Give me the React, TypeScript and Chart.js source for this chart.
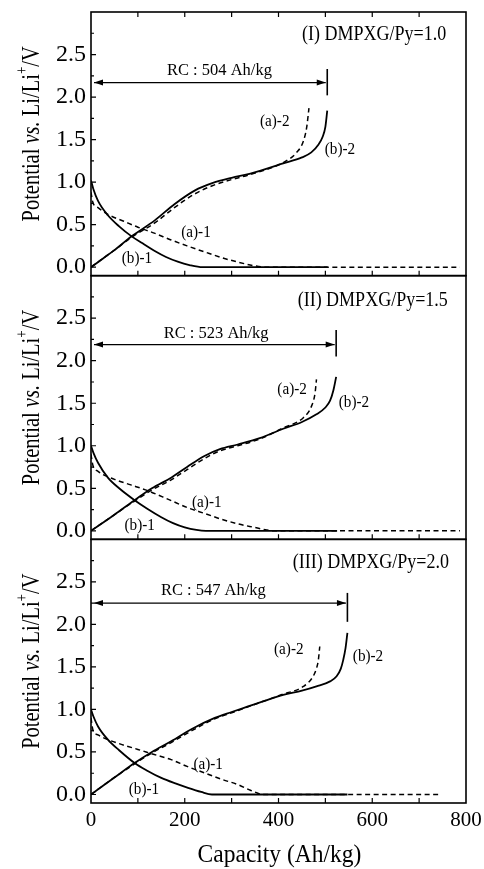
import React, { useEffect, useRef } from 'react';
import { Chart, registerables } from 'chart.js';
Chart.register(...registerables);

const SERIF = '"Liberation Serif", "Times New Roman", serif';

// ---- axes ----
const X_TICKS = [0, 200, 400, 600, 800];
const X_MINOR = [100, 200, 300, 400, 500, 600, 700];
const Y_TICKS = [0, 0.5, 1.0, 1.5, 2.0, 2.5];
const Y_MINOR = [0, 0.25, 0.5, 0.75, 1.0, 1.25, 1.5, 1.75, 2.0, 2.25, 2.5, 2.75];

// ---- panel info ----
const PANEL_NAMES = ['(I) DMPXG/Py=1.0', '(II) DMPXG/Py=1.5', '(III) DMPXG/Py=2.0'];
const RC = [504, 523, 547];
const CURVE_LABELS = ['(a)-1', '(b)-1', '(a)-2', '(b)-2'];

// ---- data: [capacity Ah/kg, potential V] ----
// Panel I
const a1_I = [[0, 0.88], [4, 0.76], [15, 0.7], [36, 0.62], [70, 0.54], [100, 0.47], [135, 0.4], [171, 0.32], [205, 0.25], [242, 0.18], [280, 0.11], [313, 0.06], [345, 0.02], [372, 0], [787, 0]];
const b1_I = [[0, 1.02], [5, 0.92], [15, 0.78], [36, 0.61], [60, 0.48], [86, 0.365], [110, 0.28], [136, 0.19], [160, 0.12], [185, 0.065], [210, 0.025], [238, 0], [505, 0]];
const a2_I = [[0, 0], [25, 0.1], [50, 0.2], [86, 0.35], [136, 0.52], [178, 0.7], [221, 0.86], [260, 0.96], [300, 1.03], [340, 1.09], [410, 1.23], [439, 1.35], [453, 1.48], [460, 1.64], [465, 1.87]];
const b2_I = [[0, 0], [25, 0.1], [50, 0.2], [86, 0.36], [136, 0.55], [178, 0.74], [221, 0.9], [260, 0.99], [300, 1.05], [340, 1.1], [410, 1.22], [450, 1.29], [470, 1.35], [485, 1.44], [494, 1.53], [500, 1.65], [504, 1.84]];
// Panel II
const a1_II = [[0, 0.9], [4, 0.77], [15, 0.7], [50, 0.605], [85, 0.54], [122, 0.47], [165, 0.37], [207, 0.27], [245, 0.2], [278, 0.137], [315, 0.08], [349, 0.04], [375, 0.01], [392, 0], [787, 0]];
const b1_II = [[0, 1.0], [5, 0.92], [15, 0.8], [36, 0.625], [60, 0.5], [93, 0.36], [120, 0.26], [150, 0.16], [175, 0.09], [200, 0.04], [225, 0.01], [245, 0], [525, 0]];
const a2_II = [[0, 0], [50, 0.19], [93, 0.35], [130, 0.48], [171, 0.6], [205, 0.72], [242, 0.85], [275, 0.94], [313, 1.0], [360, 1.08], [410, 1.21], [453, 1.33], [470, 1.46], [478, 1.62], [481, 1.78]];
const b2_II = [[0, 0], [50, 0.19], [93, 0.36], [130, 0.5], [171, 0.625], [205, 0.75], [242, 0.88], [275, 0.96], [313, 1.015], [360, 1.09], [410, 1.2], [450, 1.28], [481, 1.37], [500, 1.45], [510, 1.53], [517, 1.65], [523, 1.81]];
// Panel III
const a1_III = [[0, 0.9], [4, 0.76], [15, 0.7], [36, 0.645], [70, 0.58], [100, 0.53], [135, 0.47], [171, 0.41], [205, 0.33], [242, 0.254], [278, 0.18], [313, 0.117], [340, 0.05], [356, 0.015], [365, 0], [741, 0]];
const b1_III = [[0, 1.0], [5, 0.92], [15, 0.8], [36, 0.645], [60, 0.52], [93, 0.37], [120, 0.28], [150, 0.195], [180, 0.13], [207, 0.078], [235, 0.03], [258, 0], [547, 0]];
const a2_III = [[0, 0], [50, 0.2], [93, 0.36], [130, 0.49], [171, 0.61], [215, 0.75], [264, 0.89], [300, 0.96], [335, 1.03], [370, 1.1], [410, 1.18], [453, 1.27], [474, 1.39], [482, 1.5], [485, 1.58], [488, 1.74]];
const b2_III = [[0, 0], [50, 0.2], [93, 0.37], [130, 0.5], [171, 0.625], [215, 0.77], [264, 0.9], [300, 0.97], [335, 1.035], [370, 1.1], [410, 1.17], [450, 1.22], [481, 1.27], [510, 1.33], [524, 1.39], [533, 1.48], [538, 1.58], [543, 1.72], [547, 1.9]];

const PANEL_DATA = [
  [a1_I, b1_I, a2_I, b2_I],
  [a1_II, b1_II, a2_II, b2_II],
  [a1_III, b1_III, a2_III, b2_III],
];

// ---- annotation placement (data units) ----
const LAYOUT = [
  { title: [604, 2.73], rcText: [274, 2.31], arrowY: 2.17, bar: [2.33, 2.02],
    labels: [[224, 0.4], [98, 0.1], [392, 1.71], [531, 1.38]] },
  { title: [601, 2.71], rcText: [267, 2.32], arrowY: 2.19, bar: [2.36, 2.05],
    labels: [[247, 0.33], [104, 0.06], [429, 1.66], [561, 1.5]] },
  { title: [597, 2.73], rcText: [261, 2.4], arrowY: 2.25, bar: [2.37, 2.03],
    labels: [[250, 0.35], [113, 0.06], [422, 1.7], [591, 1.62]] },
];

// Chart.js stacks left axes bottom-up, so panel i (top to bottom) uses this id
const axisId = (i: number) => 'y' + (3 - i);

function drawText(ctx: CanvasRenderingContext2D, text: string, x: number, y: number, size: number, sx = 1) {
  ctx.save();
  ctx.translate(x, y);
  ctx.scale(sx, 1);
  ctx.font = `${size}px ${SERIF}`;
  ctx.textAlign = 'center';
  ctx.textBaseline = 'middle';
  ctx.fillText(text, 0, 0);
  ctx.restore();
}

const decorPlugin = {
  id: 'decor',
  afterDraw(chart: any) {
    const ctx: CanvasRenderingContext2D = chart.ctx;
    const xs = chart.scales.x;
    const L = xs.left, R = xs.right;
    ctx.save();
    ctx.strokeStyle = '#000';
    ctx.fillStyle = '#000';
    for (let i = 0; i < 3; i++) {
      const ys = chart.scales[axisId(i)];
      const T = ys.top, B = ys.bottom;
      // frame
      ctx.lineWidth = 1.6;
      ctx.strokeRect(L, T, R - L, B - T);
      // ticks
      ctx.lineWidth = 1.2;
      ctx.beginPath();
      X_MINOR.forEach((v) => {
        const px = xs.getPixelForValue(v);
        ctx.moveTo(px, B); ctx.lineTo(px, B - 5);
        if (i === 0) { ctx.moveTo(px, T); ctx.lineTo(px, T + 5); }
      });
      Y_MINOR.forEach((v, k) => {
        const py = ys.getPixelForValue(v);
        const len = k % 2 === 0 ? 5 : 3;
        ctx.moveTo(L, py); ctx.lineTo(L + len, py);
      });
      ctx.stroke();

      const lay = LAYOUT[i];
      // panel title
      drawText(ctx, PANEL_NAMES[i], xs.getPixelForValue(lay.title[0]), ys.getPixelForValue(lay.title[1]), 20, 0.9);
      // RC text
      drawText(ctx, `RC : ${RC[i]} Ah/kg`, xs.getPixelForValue(lay.rcText[0]), ys.getPixelForValue(lay.rcText[1]), 17, 0.97);
      // arrow
      const ay = ys.getPixelForValue(lay.arrowY);
      const x0 = xs.getPixelForValue(0) + 3;
      const xr = xs.getPixelForValue(RC[i]);
      const x1 = xr - 1.5;
      ctx.lineWidth = 1.2;
      ctx.beginPath(); ctx.moveTo(x0, ay); ctx.lineTo(x1, ay); ctx.stroke();
      ctx.beginPath(); ctx.moveTo(x0, ay); ctx.lineTo(x0 + 9, ay - 3); ctx.lineTo(x0 + 9, ay + 3); ctx.closePath(); ctx.fill();
      ctx.beginPath(); ctx.moveTo(x1, ay); ctx.lineTo(x1 - 9, ay - 3); ctx.lineTo(x1 - 9, ay + 3); ctx.closePath(); ctx.fill();
      // bar
      ctx.lineWidth = 1.6;
      ctx.beginPath();
      ctx.moveTo(xr, ys.getPixelForValue(lay.bar[0]));
      ctx.lineTo(xr, ys.getPixelForValue(lay.bar[1]));
      ctx.stroke();
      // curve labels
      lay.labels.forEach((p, k) => {
        drawText(ctx, CURVE_LABELS[k], xs.getPixelForValue(p[0]), ys.getPixelForValue(p[1]), 16, 0.95);
      });

      // y-axis title
      const cy = (T + B) / 2 - 10;
      ctx.save();
      ctx.translate(32, cy);
      ctx.rotate(-Math.PI / 2);
      ctx.scale(0.82, 1);
      ctx.textBaseline = 'middle';
      ctx.textAlign = 'left';
      const segs: [string, string, number][] = [
        ['Potential ', `25px ${SERIF}`, 0],
        ['vs.', `italic 25px ${SERIF}`, 0],
        [' Li/Li', `25px ${SERIF}`, 0],
        ['+', `16px ${SERIF}`, -9],
        ['/V', `25px ${SERIF}`, 0],
      ];
      let total = 0;
      segs.forEach((s) => { ctx.font = s[1]; total += ctx.measureText(s[0]).width; });
      let cx = -total / 2;
      segs.forEach((s) => {
        ctx.font = s[1];
        ctx.fillText(s[0], cx, s[2]);
        cx += ctx.measureText(s[0]).width;
      });
      ctx.restore();
    }
    // x-axis title
    drawText(ctx, 'Capacity (Ah/kg)', (L + R) / 2 + 1, 855, 25, 0.94);
    ctx.restore();
  },
};

function yScale() {
  return {
    type: 'linear',
    position: 'left',
    stack: 'panels',
    stackWeight: 1,
    min: -0.1,
    max: 3.0,
    afterBuildTicks: (s: any) => { s.ticks = Y_TICKS.map((v) => ({ value: v })); },
    afterFit: (s: any) => { s.width = 91; s.paddingTop = 0; s.paddingBottom = 0; },
    ticks: {
      font: { family: SERIF, size: 24 },
      color: '#000',
      padding: 5,
      autoSkip: false,
      callback: (v: any) => Number(v).toFixed(1),
    },
    grid: { display: false, drawTicks: false },
    border: { display: false },
    title: { display: false },
  };
}

export default function App() {
  const ref = useRef<HTMLCanvasElement>(null);
  useEffect(() => {
    const datasets: any[] = [];
    PANEL_DATA.forEach((curves, i) => {
      curves.forEach((pts, k) => {
        const dashed = k % 2 === 0;
        datasets.push({
          label: `${PANEL_NAMES[i]} ${CURVE_LABELS[k]}`,
          data: pts.map((p) => ({ x: p[0], y: p[1] })),
          yAxisID: axisId(i),
          borderColor: '#000',
          borderWidth: dashed ? 1.5 : 1.8,
          borderDash: dashed ? [5, 3.5] : [],
          pointRadius: 0,
          fill: false,
          cubicInterpolationMode: 'monotone',
          order: dashed ? 0 : 1,
        });
      });
    });
    const chart = new Chart(ref.current!, {
      type: 'line',
      data: { datasets },
      options: {
        animation: false,
        responsive: false,
        events: [],
        layout: { padding: { top: 12, right: 18, left: 0, bottom: 0 } },
        plugins: { legend: { display: false }, tooltip: { enabled: false }, title: { display: false } },
        scales: {
          x: {
            type: 'linear',
            min: 0,
            max: 800,
            afterBuildTicks: (s: any) => { s.ticks = X_TICKS.map((v) => ({ value: v })); },
            afterFit: (s: any) => { s.height = 66; s.paddingLeft = 0; s.paddingRight = 0; },
            ticks: { font: { family: SERIF, size: 21 }, color: '#000', padding: 5, maxRotation: 0, autoSkip: false },
            grid: { display: false, drawTicks: false },
            border: { display: false },
          },
          y1: yScale(),
          y2: yScale(),
          y3: yScale(),
        } as any,
      },
      plugins: [decorPlugin],
    } as any);
    return () => chart.destroy();
  }, []);
  return (
    <div style={{ position: 'fixed', left: 0, top: 0, width: 484, height: 869, background: '#fff' }}>
      <canvas ref={ref} width={484} height={869} style={{ width: 484, height: 869, display: 'block' }} />
    </div>
  );
}
